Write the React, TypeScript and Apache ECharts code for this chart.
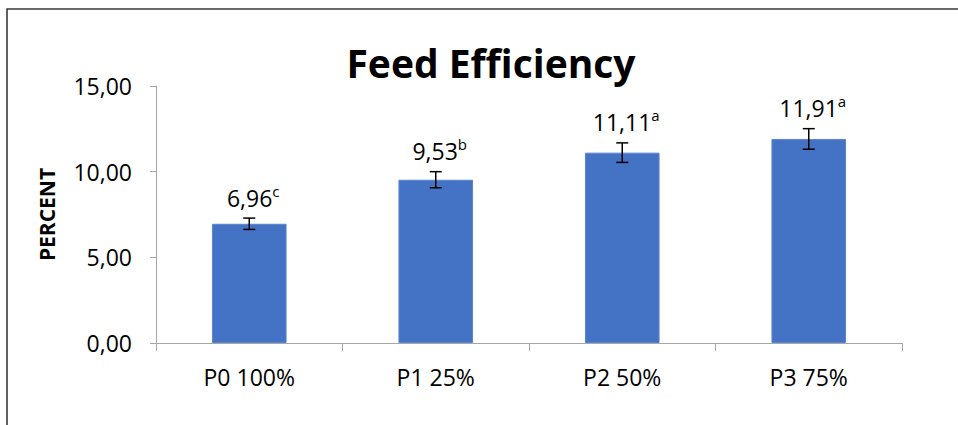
import React, { useEffect, useRef } from "react";
import * as echarts from "echarts";

const categories = ["P0 100%", "P1 25%", "P2 50%", "P3 75%"];
const values = [6.96, 9.53, 11.11, 11.91];
const errors = [0.33, 0.47, 0.57, 0.6];
const letters = ["c", "b", "a", "a"];
const yTicks = [0, 5, 10, 15];

const FONT = "'Open Sans', 'Liberation Sans', sans-serif";
const fmt = (v: number) => v.toFixed(2).replace(".", ",");

export default function App() {
  const ref = useRef<HTMLDivElement>(null);
  useEffect(() => {
    document.body.style.margin = "0";
    if (!ref.current) return;
    const chart = echarts.init(ref.current, null, { renderer: "svg" });
    const axisColor = "#a6a6a6";
    chart.setOption({
      animation: false,
      backgroundColor: "#ffffff",
      grid: { left: 156, right: 56, top: 86, bottom: 82 },
      graphic: [
        {
          type: "rect",
          shape: { x: 7, y: 9, width: 1200, height: 1000 },
          style: { fill: "none", stroke: "#3a3a3a", lineWidth: 1.6 },
          silent: true,
        },
        {
          type: "text",
          x: 491,
          y: 62,
          style: {
            text: "Feed Efficiency",
            fontFamily: FONT,
            fontWeight: "bold",
            fontSize: 39,
            fill: "#000",
            align: "center",
            verticalAlign: "middle",
          },
        },
      ],
      xAxis: {
        type: "category",
        data: categories,
        axisLine: { lineStyle: { color: axisColor, width: 1 } },
        axisTick: { show: true, length: 8, lineStyle: { color: axisColor } },
        axisLabel: { color: "#000", fontFamily: FONT, fontSize: 23, margin: 22 },
      },
      yAxis: {
        type: "value",
        min: yTicks[0],
        max: yTicks[yTicks.length - 1],
        interval: yTicks[1] - yTicks[0],
        name: "PERCENT",
        nameLocation: "middle",
        nameGap: 99,
        nameTextStyle: { fontFamily: FONT, fontWeight: "bold", fontSize: 21, color: "#000" },
        splitLine: { show: false },
        axisLine: { show: true, lineStyle: { color: axisColor, width: 1 } },
        axisTick: { show: true, length: 6, lineStyle: { color: axisColor } },
        axisLabel: {
          color: "#000",
          fontFamily: FONT,
          fontSize: 23,
          margin: 24,
          formatter: (v: number) => fmt(v),
        },
      },
      series: [
        {
          type: "bar",
          data: values,
          barWidth: "40%",
          itemStyle: { color: "#4472C4", borderColor: "#5b84cf", borderWidth: 1 },
        },
        {
          type: "custom",
          data: values.map((v, i) => [i, v + errors[i], v - errors[i], i]),
          renderItem: (params: any, api: any) => {
            const idx = api.value(3);
            const top = api.coord([api.value(0), api.value(1)]);
            const bot = api.coord([api.value(0), api.value(2)]);
            const half = 6;
            const ls = { stroke: "#000", lineWidth: 1.5 };
            return {
              type: "group",
              children: [
                { type: "line", shape: { x1: top[0], y1: top[1], x2: bot[0], y2: bot[1] }, style: ls },
                { type: "line", shape: { x1: top[0] - half, y1: top[1], x2: top[0] + half, y2: top[1] }, style: ls },
                { type: "line", shape: { x1: bot[0] - half, y1: bot[1], x2: bot[0] + half, y2: bot[1] }, style: ls },
                {
                  type: "text",
                  x: top[0] + 4,
                  y: top[1] - 6,
                  style: {
                    text: `{v|${fmt(values[idx])}}{s|${letters[idx]}}`,
                    align: "center",
                    verticalAlign: "bottom",
                    rich: {
                      v: { fontFamily: FONT, fontSize: 23, lineHeight: 29, fill: "#000", color: "#000" },
                      s: {
                        fontFamily: FONT,
                        fontSize: 15,
                        lineHeight: 18,
                        verticalAlign: "top",
                        fill: "#000",
                        color: "#000",
                      },
                    },
                  },
                },
              ],
            };
          },
          z: 10,
        },
      ],
    });
    return () => chart.dispose();
  }, []);
  return <div ref={ref} style={{ width: 958, height: 425 }} />;
}
